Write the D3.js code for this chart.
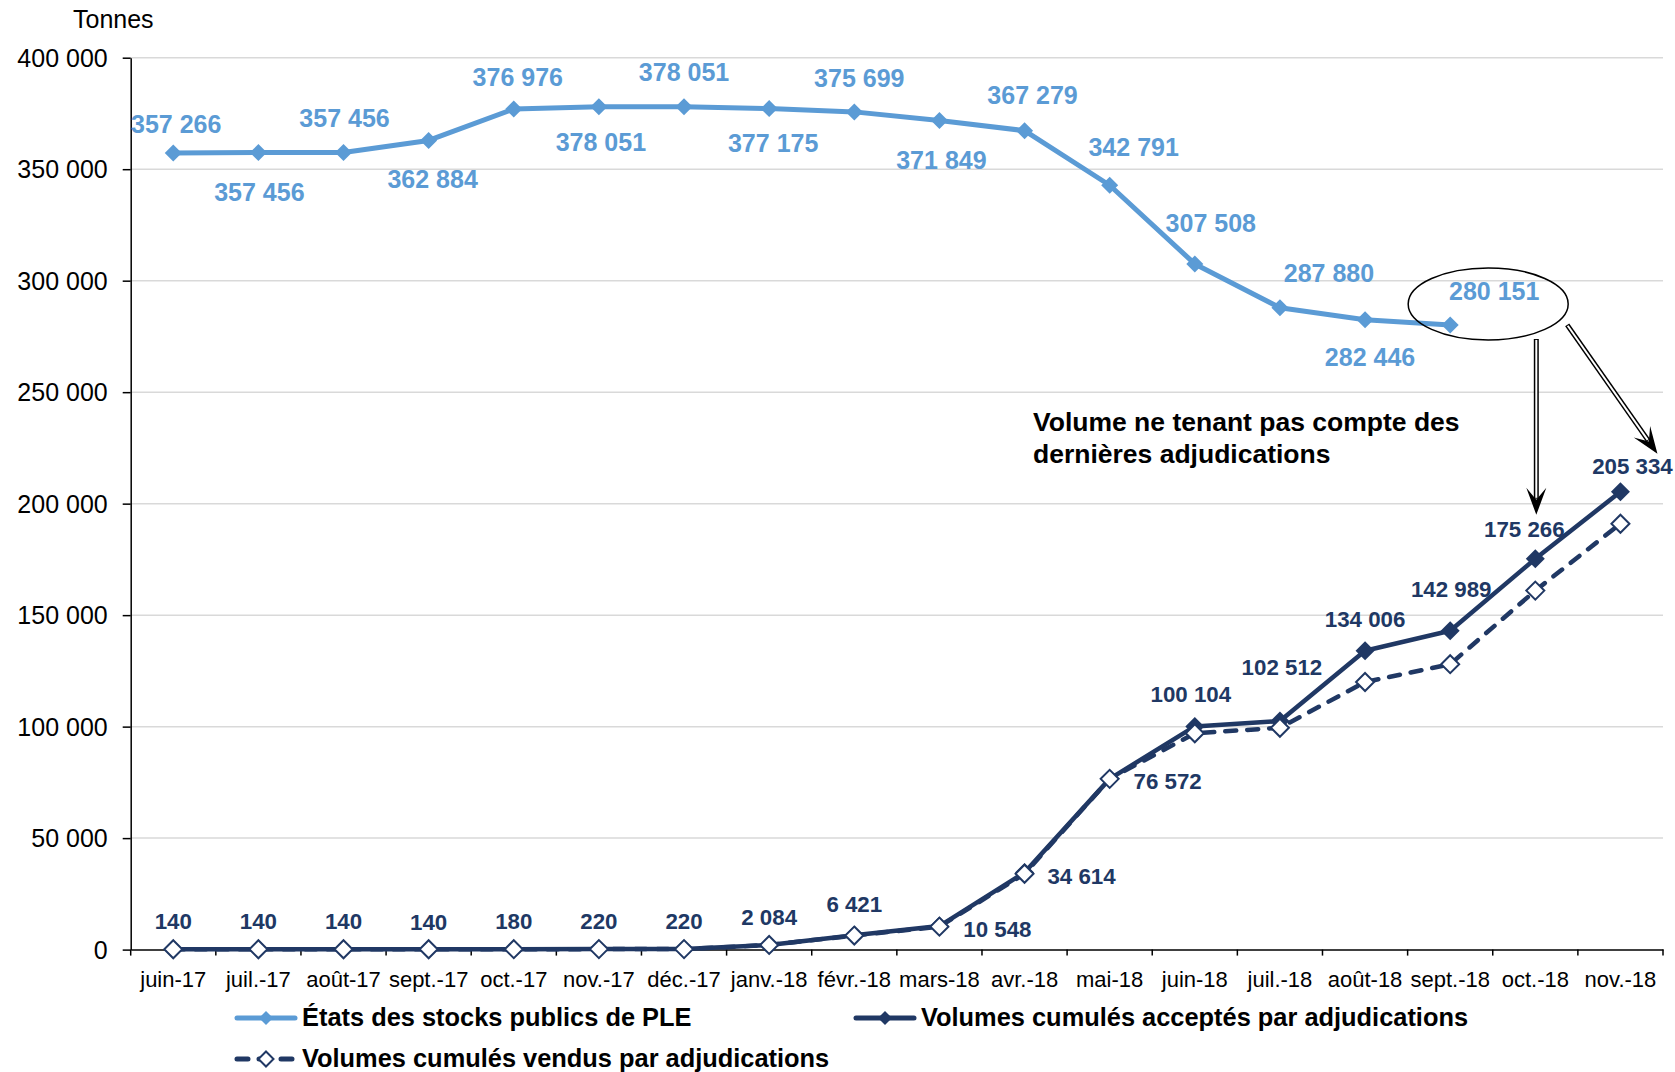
<!DOCTYPE html>
<html><head><meta charset="utf-8">
<script src="https://cdn.jsdelivr.net/npm/d3@7"></script>
<style>
html,body{margin:0;padding:0;background:#fff;}
svg{display:block;font-family:"Liberation Sans",Arial,sans-serif;}
</style></head>
<body>
<svg id="chart" width="1675" height="1072"></svg>
<script>
// ---------- data ----------
const categories = ["juin-17","juil.-17","août-17","sept.-17","oct.-17","nov.-17","déc.-17","janv.-18","févr.-18","mars-18","avr.-18","mai-18","juin-18","juil.-18","août-18","sept.-18","oct.-18","nov.-18"];
const stocks   = [357266,357456,357456,362884,376976,378051,378051,377175,375699,371849,367279,342791,307508,287880,282446,280151];
const accepted = [140,140,140,140,180,220,220,2084,6421,10548,34614,76572,100104,102512,134006,142989,175266,205334];
const sold     = [140,140,140,140,180,220,220,2084,6300,10300,34000,76572,97000,99500,120000,128000,161000,191000];
const yTicks   = [0,50000,100000,150000,200000,250000,300000,350000,400000];
const seriesNames = ["États des stocks publics de PLE","Volumes cumulés acceptés par adjudications","Volumes cumulés vendus par adjudications"];
const unitLabel = "Tonnes";
const noteLines = ["Volume ne tenant pas compte des","dernières adjudications"];

// ---------- layout (label offsets, px) ----------
const stockLabelOff = [[3,-29],[1,40],[1,-34],[4,39],[4,-32],[2,36],[0,-34],[4,35],[5,-34],[2,40],[8,-35],[24,-38],[16,-41],[49,-34],[5,37],[44,-34]];
const accLabelOff = [[0,-28],[0,-28],[0,-28],[0,-27],[0,-28],[0,-28],[0,-28],[0,-28],[0,-31],[58,3],[57,4],[58,2],[-4,-32],[2,-54],[0,-32],[1,-42],[-11,-30],[12,-26]];

const LIGHT = "#5b9bd5", DARK = "#203864";
const svg = d3.select("#chart");
const X0 = 130.7, X1 = 1663, YTOP = 57.7, YBOT = 949.6;

const x = d3.scaleBand().domain(categories).range([X0, X1]).padding(0);
const xc = c => x(c) + x.bandwidth()/2;
const y = d3.scaleLinear().domain([0, 400000]).range([YBOT, YTOP]);
const fmt = v => d3.format(",")(v).replace(/,/g, " ");

// gridlines
svg.append("g").selectAll("line").data(yTicks.filter(t => t > 0)).join("line")
  .attr("x1", X0).attr("x2", X1).attr("y1", d => y(d)).attr("y2", d => y(d))
  .attr("stroke", "#d9d9d9").attr("stroke-width", 1.5);

// y axis
const yAxis = svg.append("g").attr("transform", `translate(${X0},0)`)
  .call(d3.axisLeft(y).tickValues(yTicks).tickFormat(fmt).tickSize(8).tickSizeOuter(0).tickPadding(15));
yAxis.select(".domain").attr("stroke", "#000").attr("stroke-width", 1.5);
yAxis.selectAll(".tick line").attr("stroke", "#000").attr("stroke-width", 1.5);
yAxis.selectAll("text").attr("font-size", 25).attr("fill", "#000")
  .attr("font-family", "Liberation Sans, Arial, sans-serif").attr("dy", "0.35em");

// x axis
const xAxis = svg.append("g").attr("transform", `translate(0,${YBOT})`)
  .call(d3.axisBottom(x).tickSize(0).tickSizeOuter(0).tickPadding(22));
xAxis.select(".domain").attr("stroke", "#000").attr("stroke-width", 1.5);
xAxis.selectAll("text").attr("font-size", 22).attr("fill", "#000")
  .attr("font-family", "Liberation Sans, Arial, sans-serif").attr("dy", "0.71em");
const bounds = categories.map(c => x(c)).concat([X1]);
svg.append("g").selectAll("line").data(bounds).join("line")
  .attr("x1", d => d).attr("x2", d => d).attr("y1", YBOT).attr("y2", YBOT + 6)
  .attr("stroke", "#000").attr("stroke-width", 1.5);

// unit label
svg.append("text").attr("x", 73).attr("y", 28).attr("font-size", 25).attr("fill", "#000").text(unitLabel);

const diamond = (r) => `M0,${-r}L${r},0L0,${r}L${-r},0Z`;

// ---------- stocks ----------
const stockPts = stocks.map((v, i) => ({c: categories[i], v, i}));
const line = d3.line().x(d => xc(d.c)).y(d => y(d.v));
svg.append("path").datum(stockPts).attr("d", line).attr("fill", "none")
  .attr("stroke", LIGHT).attr("stroke-width", 5).attr("stroke-linejoin", "round");
svg.append("g").selectAll("path").data(stockPts).join("path")
  .attr("d", diamond(8.5)).attr("transform", d => `translate(${xc(d.c)},${y(d.v)})`).attr("fill", LIGHT);

// ---------- accepted ----------
const accPts = accepted.map((v, i) => ({c: categories[i], v, i}));
svg.append("path").datum(accPts).attr("d", line).attr("fill", "none")
  .attr("stroke", DARK).attr("stroke-width", 4.5).attr("stroke-linejoin", "round");
svg.append("g").selectAll("path").data(accPts).join("path")
  .attr("d", diamond(9.5)).attr("transform", d => `translate(${xc(d.c)},${y(d.v)})`).attr("fill", DARK);

// ---------- sold ----------
const soldPts = sold.map((v, i) => ({c: categories[i], v, i}));
svg.append("path").datum(soldPts).attr("d", line).attr("fill", "none")
  .attr("stroke", DARK).attr("stroke-width", 4.5).attr("stroke-dasharray", "11,11")
  .attr("stroke-linecap", "round").attr("stroke-linejoin", "round");
svg.append("g").selectAll("path").data(soldPts).join("path")
  .attr("d", diamond(9)).attr("transform", d => `translate(${xc(d.c)},${y(d.v)})`)
  .attr("fill", "#fff").attr("stroke", DARK).attr("stroke-width", 2);

// ---------- data labels ----------
svg.append("g").selectAll("text").data(stockPts).join("text")
  .attr("x", d => xc(d.c) + stockLabelOff[d.i][0]).attr("y", d => y(d.v) + stockLabelOff[d.i][1])
  .attr("dy", "0.35em").attr("text-anchor", "middle").attr("font-weight", "bold")
  .attr("font-size", 25).attr("fill", LIGHT).text(d => fmt(d.v));
svg.append("g").selectAll("text").data(accPts).join("text")
  .attr("x", d => xc(d.c) + accLabelOff[d.i][0]).attr("y", d => y(d.v) + accLabelOff[d.i][1])
  .attr("dy", "0.35em").attr("text-anchor", "middle").attr("font-weight", "bold")
  .attr("font-size", 22.3).attr("fill", DARK).text(d => fmt(d.v));

// ---------- annotation ----------
const ecx = xc("sept.-18") + 38, ecy = y(280151) - 21;
svg.append("ellipse").attr("cx", ecx).attr("cy", ecy).attr("rx", 80).attr("ry", 36)
  .attr("fill", "none").attr("stroke", "#000").attr("stroke-width", 1.5);

function doubleArrow(x1, y1, x2, y2) {
  const a = Math.atan2(y2 - y1, x2 - x1);
  const len = Math.hypot(x2 - x1, y2 - y1);
  const g = svg.append("g").attr("transform", `translate(${x1},${y1}) rotate(${a*180/Math.PI})`);
  g.append("line").attr("x1", 0).attr("y1", 0).attr("x2", len - 16).attr("y2", 0)
    .attr("stroke", "#000").attr("stroke-width", 5);
  g.append("line").attr("x1", 1).attr("y1", 0).attr("x2", len - 17).attr("y2", 0)
    .attr("stroke", "#fff").attr("stroke-width", 2);
  g.append("path").attr("d", `M${len},0L${len-27},-10L${len-15},0L${len-27},10Z`).attr("fill", "#000");
}
doubleArrow(xc("oct.-18") + 1, ecy + 35, xc("oct.-18") + 1, y(175266) - 44);
doubleArrow(ecx + 79, ecy + 21, xc("nov.-18") + 37, y(205334) - 38);

svg.append("g").selectAll("text").data(noteLines).join("text")
  .attr("x", 1033).attr("y", (d, i) => 431 + i * 32)
  .attr("font-size", 26.5).attr("font-weight", "bold").attr("fill", "#000").text(d => d);

// ---------- legend ----------
const legend = [
  {name: seriesNames[0], x: 235, y: 1018, color: LIGHT, dash: null, marker: "fill", r: 7},
  {name: seriesNames[1], x: 854, y: 1018, color: DARK, dash: null, marker: "fill", r: 7},
  {name: seriesNames[2], x: 235, y: 1059, color: DARK, dash: "11,11", marker: "open", r: 7.5}
];
const lg = svg.append("g").selectAll("g").data(legend).join("g")
  .attr("transform", d => `translate(${d.x},${d.y})`);
lg.append("line").attr("x1", 2).attr("x2", 60).attr("y1", 0).attr("y2", 0)
  .attr("stroke", d => d.color).attr("stroke-width", 5).attr("stroke-linecap", "round")
  .attr("stroke-dasharray", d => d.dash);
lg.append("path").attr("d", d => diamond(d.r)).attr("transform", "translate(31,0)")
  .attr("fill", d => d.marker === "open" ? "#fff" : d.color)
  .attr("stroke", d => d.marker === "open" ? d.color : "none").attr("stroke-width", 2);
lg.append("text").attr("x", 67).attr("y", 8).attr("font-size", 25.4).attr("font-weight", "bold")
  .attr("fill", "#000").text(d => d.name);
</script>
</body></html>
